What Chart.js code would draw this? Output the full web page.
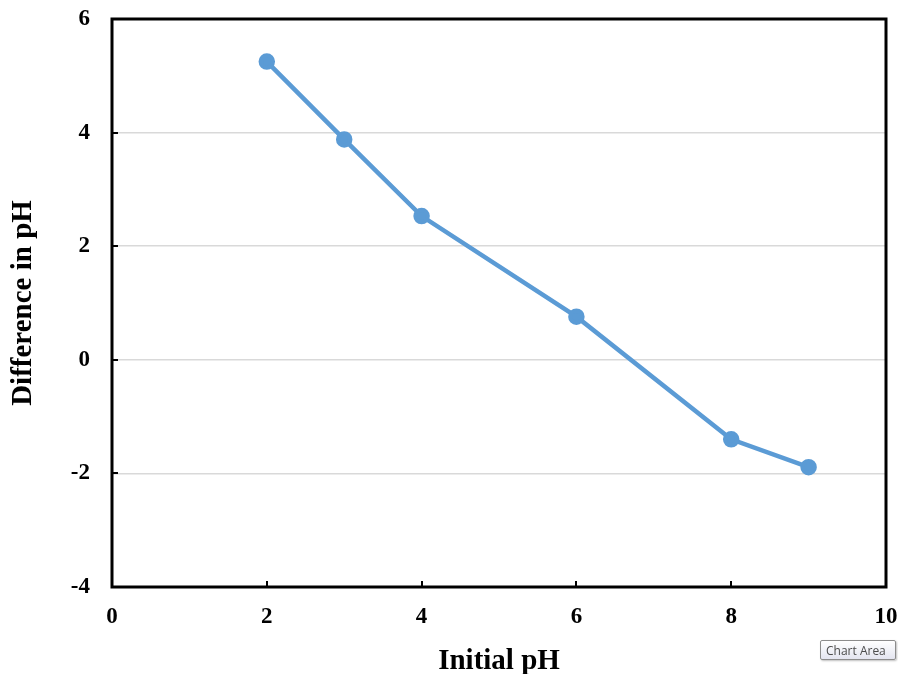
<!DOCTYPE html>
<html>
<head>
<meta charset="utf-8">
<script src="https://cdn.jsdelivr.net/npm/chart.js@4/dist/chart.umd.min.js"></script>
<style>
  html, body { margin: 0; padding: 0; background: #fff; }
  #wrap { position: relative; width: 898px; height: 674px; }
  #tip {
    position: absolute; left: 820px; top: 640px; width: 76px; height: 20px;
    border: 1px solid #8c8c8c; border-radius: 2px;
    background: linear-gradient(#ffffff, #e4e5f0);
    font: 12px "Open Sans", "DejaVu Sans", sans-serif; color: #4c4c4c;
    line-height: 20px; padding-left: 5px; box-sizing: border-box;
    box-shadow: 1px 1px 2px rgba(0,0,0,0.25);
  }
</style>
</head>
<body>
<div id="wrap">
  <canvas id="c" width="898" height="674"></canvas>
  <div id="tip">Chart Area</div>
</div>
<script>
// data ------------------------------------------------------------------
const initialPH = [2, 3, 4, 6, 8, 9];
const diffPH    = [5.25, 3.88, 2.53, 0.76, -1.40, -1.89];

const serif = '"Liberation Serif", "Times New Roman", serif';

// frame + inward tick marks
const framePlugin = {
  id: 'frame',
  afterDraw(chart) {
    const { ctx, chartArea: a, scales } = chart;
    ctx.save();
    ctx.strokeStyle = '#000';
    ctx.lineWidth = 2;
    scales.y.ticks.forEach(t => {
      const py = Math.round(scales.y.getPixelForValue(t.value));
      ctx.beginPath(); ctx.moveTo(a.left, py); ctx.lineTo(a.left + 6, py); ctx.stroke();
    });
    scales.x.ticks.forEach(t => {
      const px = Math.round(scales.x.getPixelForValue(t.value));
      ctx.beginPath(); ctx.moveTo(px, a.bottom); ctx.lineTo(px, a.bottom - 6); ctx.stroke();
    });
    ctx.lineWidth = 3;
    ctx.strokeRect(a.left, a.top, a.right - a.left, a.bottom - a.top);
    ctx.restore();
  }
};

new Chart(document.getElementById('c'), {
  type: 'line',
  data: {
    datasets: [{
      data: initialPH.map((x, i) => ({ x, y: diffPH[i] })),
      borderColor: '#5b9bd5',
      backgroundColor: '#5b9bd5',
      borderWidth: 4.5,
      pointRadius: 6,
      pointHoverRadius: 6,
      tension: 0,
    }],
  },
  options: {
    responsive: false,
    animation: false,
    layout: { padding: { top: 19, right: 12, left: 0, bottom: 0 } },
    plugins: { legend: { display: false }, tooltip: { enabled: false } },
    scales: {
      x: {
        type: 'linear',
        min: 0, max: 10,
        afterFit: s => { s.height = 87; s.paddingLeft = 0; s.paddingRight = 0; },
        grid: { display: false, drawTicks: false },
        border: { display: false },
        ticks: { stepSize: 2, padding: 16, color: '#000', font: { family: serif, size: 23, weight: 'bold' } },
        title: { display: true, text: 'Initial pH', color: '#000', padding: { top: 16, bottom: -5 },
                 font: { family: serif, size: 29, weight: 'bold' } },
      },
      y: {
        min: -4, max: 6,
        afterFit: s => { s.width = 112; s.paddingTop = 0; s.paddingBottom = 0; },
        grid: { color: '#d9d9d9', lineWidth: 1.5, drawTicks: false },
        border: { display: false },
        ticks: { stepSize: 2, padding: 22, color: '#000', font: { family: serif, size: 23, weight: 'bold' } },
        title: { display: true, text: 'Difference in pH', color: '#000', padding: { top: 6, bottom: 0 },
                 font: { family: serif, size: 29, weight: 'bold' } },
      },
    },
  },
  plugins: [framePlugin],
});
</script>
</body>
</html>
